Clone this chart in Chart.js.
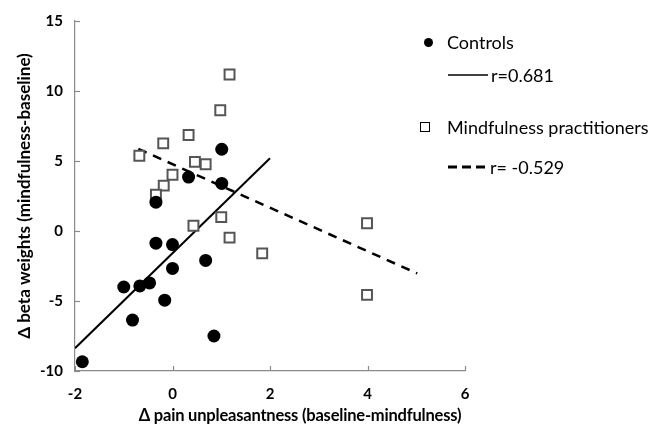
<!DOCTYPE html>
<html>
<head>
<meta charset="utf-8">
<script src="https://cdn.jsdelivr.net/npm/chart.js@4"></script>
<style>
body{margin:0;background:#fff;font-family:Lato,sans-serif;color:#000}
#wrap{position:relative;width:667px;height:436px}
#chart{position:absolute;left:0;top:0}
.lg{position:absolute;font-size:18px;line-height:20px;white-space:nowrap}
#xTitle{position:absolute;left:0;width:600px;top:405px;text-align:center;font-weight:bold;font-size:16.5px;letter-spacing:-0.2px}
</style>
</head>
<body>
<div id="wrap">
<canvas id="chart" width="667" height="436"></canvas>

<div style="position:absolute;left:424px;top:38px;width:9px;height:9px;border-radius:50%;background:#000"></div>
<div class="lg" style="left:447px;top:32px">Controls</div>

<svg style="position:absolute;left:446px;top:70px" width="44" height="10"><line x1="2" y1="5" x2="42" y2="5" stroke="#000" stroke-width="1.5"/></svg>
<div class="lg" style="left:491px;top:65px">r=0.681</div>

<div style="position:absolute;left:420px;top:122px;width:8px;height:8px;border:1.5px solid #000"></div>
<div class="lg" style="left:447px;top:117px">Mindfulness practitioners</div>

<svg style="position:absolute;left:446px;top:162px" width="46" height="10"><line x1="2" y1="5" x2="44" y2="5" stroke="#000" stroke-width="3.2" stroke-dasharray="9,5"/></svg>
<div class="lg" style="left:490px;top:157px">r= -0.529</div>

<div id="xTitle">Δ pain unpleasantness (baseline-mindfulness)</div>
</div>

<script>

const controlsX = [-1.85, -1.0, -0.67, -0.47, -0.82, -0.16, -0.34, 0.0, 0.0, 0.68, 0.85, -0.34, 0.33, 1.01, 1.01]
const controlsY = [-9.34, -4.0, -3.92, -3.71, -6.36, -4.94, -0.87, -0.97, -2.67, -2.1, -7.5, 2.06, 3.85, 5.84, 3.4]

const mindX = [-0.68, -0.19, 0.0, -0.18, -0.34, 0.33, 0.46, 0.68, 0.98, 1.17, 0.43, 1.0, 1.17, 1.84, 3.99, 3.99]
const mindY = [5.37, 6.26, 4.02, 3.24, 2.6, 6.86, 4.94, 4.77, 8.63, 11.18, 0.38, 0.99, -0.47, -1.6, 0.55, -4.56]

const controlsFitX = [-2, 2]
const controlsFitY = [-8.37, 5.2]

const mindFitX = [-0.7, 5.02]
const mindFitY = [5.86, -3.03]

const xTicks = [-2, 0, 2, 4, 6]
const yTicks = [-10, -5, 0, 5, 10, 15]

function toPoints(xs, ys){
    return xs.map((x, i) => ({x: x, y: ys[i]}))
}

// short tick marks pointing into the plot
const innerTicks = {
    id:'innerTicks',
    afterDraw(chart){
        const ctx = chart.ctx
        const xs = chart.scales.x
        const ys = chart.scales.y
        const area = chart.chartArea
        ctx.save()
        ctx.strokeStyle = '#8a8a8a'
        ctx.lineWidth = 1.2
        xTicks.forEach(v => {
            const px = Math.round(xs.getPixelForValue(v)) + 0.5
            ctx.beginPath()
            ctx.moveTo(px, area.bottom)
            ctx.lineTo(px, area.bottom - 5)
            ctx.stroke()
        })
        yTicks.forEach(v => {
            const py = Math.round(ys.getPixelForValue(v)) + 0.5
            ctx.beginPath()
            ctx.moveTo(area.left, py)
            ctx.lineTo(area.left + 5, py)
            ctx.stroke()
        })
        ctx.restore()
    }
}

Chart.defaults.font.family = 'Lato, sans-serif'
Chart.defaults.color = '#000'

new Chart(
    document.getElementById('chart'),
    {
        type:'scatter',
        data:{
            datasets:[
                {
                    label:'Controls',
                    data:toPoints(controlsX, controlsY),
                    pointStyle:'circle',
                    pointRadius:6.5,
                    backgroundColor:'#000',
                    borderColor:'#000',
                    borderWidth:0
                },
                {
                    label:'Mindfulness practitioners',
                    data:toPoints(mindX, mindY),
                    pointStyle:'rect',
                    pointRadius:7,
                    backgroundColor:'#fff',
                    borderColor:'#555',
                    borderWidth:2
                },
                {
                    type:'line',
                    label:'r=0.681',
                    data:toPoints(controlsFitX, controlsFitY),
                    borderColor:'#000',
                    borderWidth:2,
                    pointRadius:0,
                    fill:false
                },
                {
                    type:'line',
                    label:'r= -0.529',
                    data:toPoints(mindFitX, mindFitY),
                    borderColor:'#000',
                    borderWidth:2.5,
                    borderDash:[9,7],
                    pointRadius:0,
                    fill:false
                }
            ]
        },
        options:{
            responsive:false,
            animation:false,
            layout:{padding:{left:0, right:202, top:18, bottom:0}},
            plugins:{
                legend:{display:false},
                tooltip:{enabled:false}
            },
            scales:{
                x:{
                    type:'linear',
                    min:-2,
                    max:6,
                    afterFit:s => { s.height = 65 },
                    afterBuildTicks:s => { s.ticks = xTicks.map(v => ({value:v})) },
                    border:{color:'#8a8a8a', width:1.2},
                    grid:{display:false, drawTicks:false},
                    ticks:{padding:14, font:{size:15, weight:'bold'}}
                },
                y:{
                    type:'linear',
                    min:-10,
                    max:15,
                    afterFit:s => { s.width = 75 },
                    afterBuildTicks:s => { s.ticks = yTicks.map(v => ({value:v})) },
                    border:{color:'#8a8a8a', width:1.2},
                    grid:{display:false, drawTicks:false},
                    ticks:{padding:12, font:{size:15, weight:'bold'}},
                    title:{
                        display:true,
                        text:'Δ beta weights (mindfulness-baseline)',
                        font:{size:17, weight:'bold'},
                        padding:{top:14, bottom:0}
                    }
                }
            }
        },
        plugins:[innerTicks]
    }
)

</script>
</body>
</html>
